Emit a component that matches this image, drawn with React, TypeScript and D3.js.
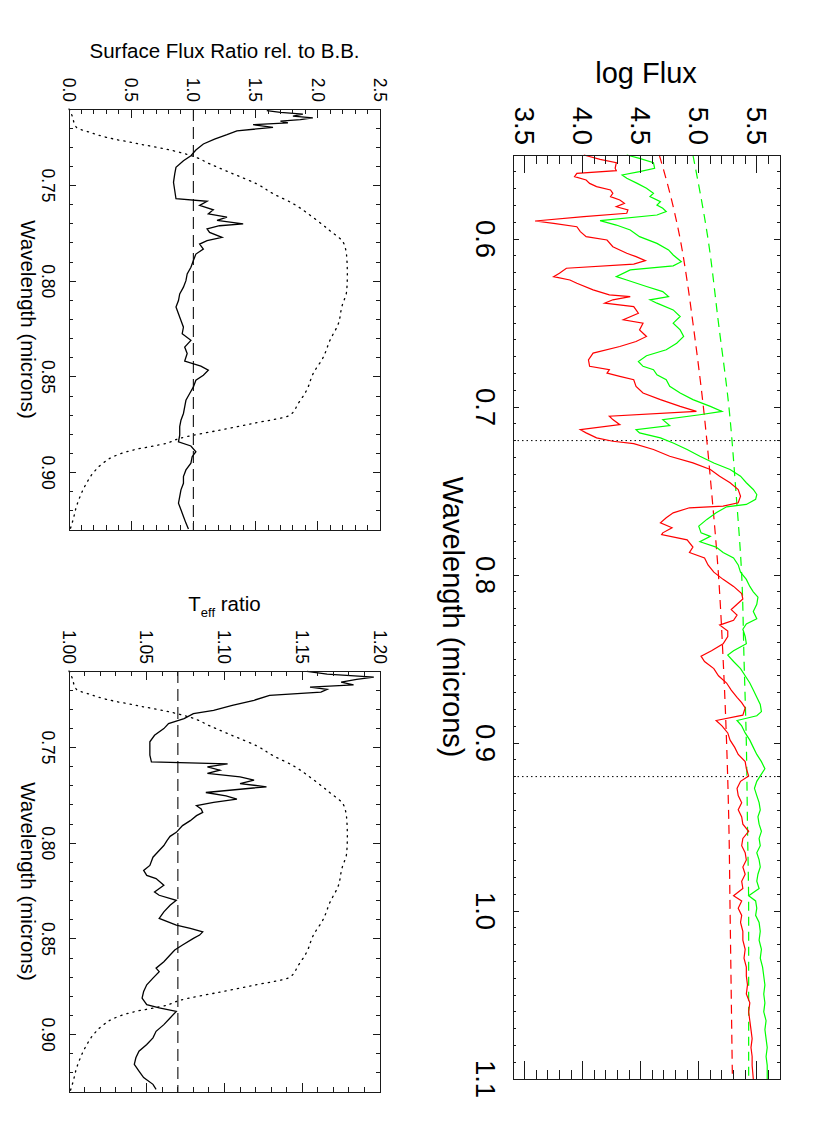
import * as d3 from "d3";

const FONT = "'Liberation Sans', Arial, Helvetica, sans-serif";

type Pt = [number, number];

// axis ticks
const mainWaveTicks = [0.6, 0.7, 0.8, 0.9, 1.0, 1.1];
const logFluxTicks = [3.5, 4.0, 4.5, 5.0, 5.5];
const smallWaveTicks = [0.75, 0.8, 0.85, 0.9];
const fluxRatioTicks = [0, 0.5, 1.0, 1.5, 2.0, 2.5];
const teffTicks = [1.0, 1.05, 1.1, 1.15, 1.2];
const bandEdges = [0.72, 0.92];

// main panel: [wavelength, log flux]
const redSpectrum: Pt[] = [
  [0.55, 4.01], [0.5526, 4.15], [0.5546, 4.29], [0.5579, 4.28], [0.5593, 4.29], [0.5609, 3.95],
  [0.5629, 3.93], [0.5649, 4.03], [0.5669, 4.06], [0.5688, 4.12], [0.5708, 4.24], [0.5728, 4.26],
  [0.5748, 4.24], [0.5768, 4.32], [0.5788, 4.36], [0.5808, 4.29], [0.5827, 4.39], [0.5847, 4.38],
  [0.5867, 4.01], [0.5893, 3.59], [0.5907, 3.75], [0.5927, 3.95], [0.5956, 3.98], [0.5986, 4.03],
  [0.6006, 4.21], [0.6046, 4.26], [0.6085, 4.38], [0.6105, 4.46], [0.6129, 4.54], [0.6149, 4.44],
  [0.6174, 3.86], [0.6204, 3.8], [0.6224, 3.75], [0.6244, 3.89], [0.6263, 3.95], [0.6303, 4.09],
  [0.6333, 4.23], [0.6343, 4.41], [0.6362, 4.26], [0.6382, 4.19], [0.6402, 4.44], [0.6422, 4.46],
  [0.6442, 4.48], [0.6481, 4.35], [0.6501, 4.52], [0.6541, 4.49], [0.658, 4.55], [0.661, 4.46],
  [0.664, 4.32], [0.6679, 4.09], [0.6719, 4.05], [0.6758, 4.06], [0.6778, 4.23], [0.6798, 4.21],
  [0.6818, 4.32], [0.6838, 4.44], [0.6877, 4.46], [0.6917, 4.52], [0.6956, 4.67], [0.6996, 4.84],
  [0.7026, 4.98], [0.7055, 4.23], [0.7075, 4.26], [0.7105, 4.32], [0.7135, 3.98], [0.7154, 4.03],
  [0.7184, 4.12], [0.7204, 4.26], [0.7218, 4.44], [0.7253, 4.61], [0.7293, 4.75], [0.7333, 4.95],
  [0.7372, 5.1], [0.7412, 5.18], [0.7451, 5.27], [0.7491, 5.34], [0.7531, 5.36], [0.757, 5.34],
  [0.759, 5.21], [0.76, 4.92], [0.763, 4.78], [0.7659, 4.72], [0.7689, 4.67], [0.7719, 4.77],
  [0.7749, 4.69], [0.776, 4.68], [0.7791, 4.9], [0.7834, 4.95], [0.7866, 4.92], [0.7898, 5.05],
  [0.794, 5.08], [0.7983, 5.13], [0.8026, 5.21], [0.8068, 5.3], [0.8111, 5.37], [0.8143, 5.38],
  [0.8174, 5.33], [0.8206, 5.28], [0.8238, 5.33], [0.827, 5.3], [0.8298, 5.18], [0.8334, 5.25],
  [0.8366, 5.25], [0.8409, 5.21], [0.8451, 5.11], [0.8483, 5.02], [0.8515, 5.05], [0.8557, 5.13],
  [0.86, 5.17], [0.8643, 5.24], [0.8685, 5.28], [0.8728, 5.33], [0.876, 5.37], [0.8791, 5.4],
  [0.8834, 5.38], [0.8866, 5.15], [0.8898, 5.2], [0.894, 5.25], [0.8983, 5.27], [0.9026, 5.31],
  [0.9068, 5.34], [0.9111, 5.4], [0.9153, 5.41], [0.9196, 5.43], [0.9228, 5.36], [0.927, 5.33],
  [0.9313, 5.34], [0.9355, 5.37], [0.9398, 5.34], [0.944, 5.37], [0.9483, 5.38], [0.9526, 5.43],
  [0.9568, 5.38], [0.9611, 5.37], [0.9653, 5.4], [0.9696, 5.41], [0.9738, 5.38], [0.9781, 5.4],
  [0.9823, 5.37], [0.9866, 5.38], [0.9909, 5.3], [0.994, 5.37], [0.9983, 5.34], [1.0026, 5.37],
  [1.0068, 5.36], [1.0121, 5.38], [1.0174, 5.38], [1.0228, 5.4], [1.0281, 5.39], [1.0334, 5.41],
  [1.0387, 5.41], [1.044, 5.42], [1.0494, 5.41], [1.0547, 5.44], [1.06, 5.43], [1.0653, 5.44],
  [1.0706, 5.45], [1.076, 5.46], [1.0813, 5.45], [1.0866, 5.46], [1.0919, 5.46], [1.1, 5.47],
];

const greenSpectrum: Pt[] = [
  [0.55, 4.38], [0.552, 4.49], [0.5546, 4.61], [0.5579, 4.62], [0.5599, 4.49], [0.5619, 4.34],
  [0.5639, 4.38], [0.5669, 4.47], [0.5698, 4.55], [0.5728, 4.61], [0.5748, 4.58], [0.5778, 4.67],
  [0.5798, 4.64], [0.5817, 4.69], [0.5837, 4.72], [0.5857, 4.64], [0.5891, 4.15], [0.5917, 4.29],
  [0.5946, 4.41], [0.5986, 4.49], [0.6026, 4.64], [0.6065, 4.74], [0.6095, 4.78], [0.6135, 4.85],
  [0.616, 4.78], [0.6184, 4.41], [0.6224, 4.29], [0.6244, 4.38], [0.6283, 4.55], [0.6313, 4.69],
  [0.6343, 4.74], [0.6362, 4.58], [0.6382, 4.64], [0.6422, 4.78], [0.6461, 4.84], [0.6501, 4.78],
  [0.6541, 4.84], [0.658, 4.87], [0.662, 4.81], [0.6659, 4.72], [0.6695, 4.55], [0.6729, 4.48],
  [0.6758, 4.52], [0.6778, 4.61], [0.6808, 4.64], [0.6838, 4.72], [0.6877, 4.75], [0.6917, 4.84],
  [0.6956, 4.95], [0.6996, 5.1], [0.7026, 5.2], [0.7046, 5.01], [0.7075, 4.69], [0.7111, 4.75],
  [0.7135, 4.46], [0.7154, 4.49], [0.7184, 4.67], [0.7214, 4.78], [0.7253, 4.9], [0.7293, 5.01],
  [0.7333, 5.13], [0.7372, 5.27], [0.7412, 5.36], [0.7451, 5.41], [0.7491, 5.47], [0.7521, 5.5],
  [0.755, 5.49], [0.758, 5.41], [0.7594, 5.24], [0.763, 5.15], [0.7669, 5.07], [0.7709, 5.0],
  [0.7749, 5.02], [0.777, 5.1], [0.7802, 5.01], [0.7834, 5.15], [0.7866, 5.21], [0.7898, 5.3],
  [0.794, 5.34], [0.7983, 5.36], [0.8026, 5.41], [0.8068, 5.44], [0.81, 5.47], [0.8132, 5.51],
  [0.8174, 5.5], [0.8217, 5.47], [0.826, 5.5], [0.8291, 5.41], [0.8323, 5.38], [0.8366, 5.4],
  [0.8409, 5.41], [0.8451, 5.3], [0.8477, 5.25], [0.8515, 5.3], [0.8557, 5.36], [0.86, 5.4],
  [0.8643, 5.44], [0.8685, 5.47], [0.8728, 5.5], [0.877, 5.53], [0.8813, 5.54], [0.8838, 5.5],
  [0.8866, 5.33], [0.8898, 5.37], [0.894, 5.4], [0.8983, 5.44], [0.9026, 5.47], [0.9068, 5.5],
  [0.9111, 5.54], [0.9153, 5.57], [0.9196, 5.53], [0.9228, 5.5], [0.927, 5.48], [0.9313, 5.5],
  [0.9355, 5.52], [0.9398, 5.53], [0.944, 5.51], [0.9483, 5.52], [0.9526, 5.54], [0.9568, 5.52],
  [0.9611, 5.53], [0.9653, 5.5], [0.9696, 5.52], [0.9738, 5.53], [0.9781, 5.51], [0.9823, 5.5],
  [0.9866, 5.52], [0.9909, 5.43], [0.994, 5.49], [0.9983, 5.5], [1.0026, 5.49], [1.0068, 5.52],
  [1.0121, 5.53], [1.0174, 5.52], [1.0228, 5.54], [1.0281, 5.53], [1.0334, 5.55], [1.0387, 5.56],
  [1.044, 5.57], [1.0494, 5.56], [1.0547, 5.57], [1.06, 5.56], [1.0653, 5.58], [1.0706, 5.57],
  [1.076, 5.58], [1.0813, 5.59], [1.0866, 5.58], [1.0919, 5.59], [1.1, 5.59],
];

const redBlackbody: Pt[] = [
  [0.55, 4.66], [0.575, 4.76], [0.6, 4.84], [0.625, 4.9], [0.65, 4.95], [0.7, 5.04], [0.75, 5.11],
  [0.8, 5.17], [0.85, 5.21], [0.9, 5.24], [0.95, 5.26], [1.0, 5.27], [1.05, 5.28], [1.1, 5.29],
];

const greenBlackbody: Pt[] = [
  [0.55, 4.95], [0.6, 5.08], [0.65, 5.17], [0.7, 5.26], [0.75, 5.32], [0.8, 5.37], [0.85, 5.39],
  [0.9, 5.41], [0.95, 5.42], [1.0, 5.43], [1.05, 5.43], [1.1, 5.43],
];

// small panels
const fluxRatio: Pt[] = [
  [0.7109, 1.59], [0.7118, 1.7], [0.7127, 1.88], [0.7137, 1.8], [0.7146, 1.96], [0.7155, 1.86],
  [0.7163, 1.7], [0.7172, 1.76], [0.7182, 1.48], [0.7196, 1.64], [0.7214, 1.35], [0.7234, 1.27],
  [0.7257, 1.17], [0.7283, 1.08], [0.7314, 1.02], [0.7344, 0.98], [0.737, 0.92], [0.7405, 0.86],
  [0.7439, 0.85], [0.7483, 0.84], [0.7526, 0.85], [0.7569, 0.86], [0.7582, 1.11], [0.7604, 1.05],
  [0.7627, 1.16], [0.7648, 1.12], [0.7665, 1.27], [0.7682, 1.19], [0.77, 1.4], [0.771, 1.21],
  [0.7727, 1.11], [0.7745, 1.13], [0.7771, 1.23], [0.7788, 1.11], [0.7806, 1.05], [0.7832, 1.08],
  [0.7858, 1.02], [0.7892, 1.0], [0.7927, 0.98], [0.7962, 0.95], [0.7997, 0.94], [0.8031, 0.92],
  [0.8066, 0.89], [0.8101, 0.88], [0.8135, 0.86], [0.817, 0.88], [0.8205, 0.9], [0.824, 0.92],
  [0.8274, 0.91], [0.8309, 0.98], [0.8344, 0.93], [0.8378, 0.95], [0.8417, 0.93], [0.8444, 1.06],
  [0.8465, 1.12], [0.8491, 1.08], [0.8517, 1.02], [0.8552, 1.0], [0.8587, 0.97], [0.8622, 0.94],
  [0.8656, 0.93], [0.8691, 0.92], [0.8726, 0.9], [0.876, 0.89], [0.8804, 0.89], [0.8839, 0.88],
  [0.8861, 0.98], [0.8891, 1.02], [0.8917, 0.99], [0.8951, 0.98], [0.8986, 0.94], [0.9021, 0.92],
  [0.9056, 0.92], [0.909, 0.9], [0.9125, 0.89], [0.916, 0.88], [0.9194, 0.9], [0.9229, 0.92],
  [0.9264, 0.94], [0.9295, 0.96],
];

const teffRatio: Pt[] = [
  [0.7102, 1.153], [0.7116, 1.166], [0.7132, 1.196], [0.7144, 1.185], [0.7158, 1.175], [0.7172, 1.183],
  [0.7184, 1.155], [0.7196, 1.166], [0.721, 1.162], [0.7227, 1.129], [0.7253, 1.119], [0.728, 1.105],
  [0.7306, 1.093], [0.7323, 1.08], [0.7349, 1.074], [0.7375, 1.064], [0.7401, 1.061], [0.7436, 1.055],
  [0.747, 1.052], [0.7505, 1.052], [0.754, 1.052], [0.7575, 1.053], [0.7585, 1.102], [0.7601, 1.089],
  [0.7618, 1.097], [0.7635, 1.089], [0.7653, 1.11], [0.767, 1.119], [0.7688, 1.11], [0.7705, 1.127],
  [0.7735, 1.088], [0.7752, 1.101], [0.7769, 1.108], [0.7787, 1.093], [0.7804, 1.082], [0.7821, 1.085],
  [0.7839, 1.086], [0.7856, 1.082], [0.7882, 1.078], [0.7908, 1.073], [0.7943, 1.069], [0.7964, 1.065],
  [0.7986, 1.063], [0.8012, 1.061], [0.8038, 1.058], [0.8073, 1.054], [0.8116, 1.052], [0.8142, 1.048],
  [0.8168, 1.05], [0.8185, 1.056], [0.822, 1.061], [0.8255, 1.055], [0.8272, 1.058], [0.8298, 1.069],
  [0.8324, 1.065], [0.8359, 1.061], [0.8393, 1.058], [0.8428, 1.069], [0.8445, 1.078], [0.8463, 1.086],
  [0.848, 1.084], [0.8497, 1.08], [0.8532, 1.073], [0.8558, 1.068], [0.8584, 1.065], [0.8619, 1.061],
  [0.8653, 1.056], [0.8671, 1.058], [0.8705, 1.054], [0.874, 1.05], [0.8775, 1.048], [0.8809, 1.047],
  [0.8844, 1.05], [0.8861, 1.058], [0.8879, 1.069], [0.8913, 1.065], [0.8948, 1.061], [0.8983, 1.056],
  [0.9017, 1.054], [0.9052, 1.05], [0.9087, 1.045], [0.9121, 1.043], [0.9156, 1.042], [0.9191, 1.045],
  [0.9225, 1.048], [0.926, 1.054], [0.9286, 1.056],
];

// filter response, as a fraction of the panel's value axis
const filterCurve: Pt[] = [
  [0.71, 0.0], [0.7127, 0.008], [0.7196, 0.024], [0.7222, 0.067], [0.7248, 0.12], [0.7283, 0.227],
  [0.7318, 0.335], [0.7344, 0.394], [0.7387, 0.453], [0.7439, 0.528], [0.7491, 0.603], [0.7543, 0.657],
  [0.7595, 0.721], [0.7667, 0.785], [0.7736, 0.839], [0.7797, 0.882], [0.7873, 0.893], [0.7962, 0.895],
  [0.8049, 0.893], [0.8135, 0.877], [0.8222, 0.866], [0.8309, 0.839], [0.8396, 0.818], [0.8483, 0.785],
  [0.857, 0.764], [0.8639, 0.737], [0.87, 0.71], [0.8743, 0.592], [0.8778, 0.485], [0.8821, 0.356],
  [0.8847, 0.313], [0.8882, 0.206], [0.8917, 0.142], [0.8951, 0.109], [0.9003, 0.077], [0.9056, 0.056],
  [0.9108, 0.04], [0.9177, 0.024], [0.9247, 0.013], [0.9295, 0.004],
];

const fluxRatioReference = 1.0;
const teffReference = 1.07;

type Scale = d3.ScaleLinear<number, number>;

const minorList = (lo: number, hi: number, step: number) =>
  d3.range(Math.ceil(lo / step - 1e-6), Math.floor(hi / step + 1e-6) + 1).map((i) => +(i * step).toFixed(4));

const isMajor = (v: number, majors: number[]) => majors.some((m) => Math.abs(m - v) < 1e-6);

function Frame({ lamScale, valScale, lamMajor, lamStep, valMajor, valStep, lamLen, valLen }: {
  lamScale: Scale; valScale: Scale; lamMajor: number[]; lamStep: number; valMajor: number[]; valStep: number;
  lamLen: [number, number]; valLen: [number, number];
}) {
  const [x0, x1] = valScale.range();
  const [y0, y1] = lamScale.range();
  const [l0, l1] = lamScale.domain();
  const [v0, v1] = valScale.domain();
  const lamTicks = minorList(l0, l1, lamStep);
  const valTicks = minorList(v0, v1, valStep);
  return (
    <g stroke="#1a1a1a" strokeWidth={1} fill="none" shapeRendering="crispEdges">
      <rect x={x0} y={y0} width={x1 - x0} height={y1 - y0} />
      {lamTicks.map((t) => {
        const y = lamScale(t);
        const len = isMajor(t, lamMajor) ? lamLen[0] : lamLen[1];
        return (
          <g key={"l" + t}>
            <line x1={x0} x2={x0 + len} y1={y} y2={y} />
            <line x1={x1 - len} x2={x1} y1={y} y2={y} />
          </g>
        );
      })}
      {valTicks.map((t) => {
        const x = valScale(t);
        const len = isMajor(t, valMajor) ? valLen[0] : valLen[1];
        return (
          <g key={"v" + t}>
            <line x1={x} x2={x} y1={y0} y2={y0 + len} />
            <line x1={x} x2={x} y1={y1 - len} y2={y1} />
          </g>
        );
      })}
    </g>
  );
}

const pathFor = (lamScale: Scale, valScale: Scale, data: Pt[], curve: d3.CurveFactory = d3.curveLinear) =>
  d3.line<Pt>().x((d) => valScale(d[1])).y((d) => lamScale(d[0])).curve(curve)(data) ?? "";

function SmallPanel({ top, bottom, domain, ticks, fmt, series, reference, title }: {
  top: number; bottom: number; domain: [number, number]; ticks: number[]; fmt: (n: number) => string;
  series: Pt[]; reference: number; title: React.ReactNode;
}) {
  const lamScale = d3.scaleLinear().domain([0.71, 0.93]).range([top, bottom]);
  const valScale = d3.scaleLinear().domain(domain).range([69, 380]);
  const fracScale = d3.scaleLinear().domain([0, 1]).range(valScale.range());
  const cy = (top + bottom) / 2;
  return (
    <g fontFamily={FONT} fill="#000">
      {title}
      <path d={pathFor(lamScale, fracScale, filterCurve, d3.curveMonotoneY)} fill="none" stroke="#000"
        strokeWidth={1.3} strokeDasharray="1.3,5" strokeLinecap="round" />
      <line x1={valScale(reference)} x2={valScale(reference)} y1={top} y2={bottom} stroke="#222"
        strokeWidth={1.2} strokeDasharray="12,6" />
      <path d={pathFor(lamScale, valScale, series)} fill="none" stroke="#000" strokeWidth={1.3} />
      <Frame lamScale={lamScale} valScale={valScale} lamMajor={smallWaveTicks} lamStep={0.01}
        valMajor={ticks} valStep={(domain[1] - domain[0]) / (ticks.length - 1) / 5} lamLen={[7, 4]} valLen={[9, 5]} />
      {ticks.map((t) => (
        <text key={t} transform={`translate(${valScale(t) - 6.3},${top - 7}) rotate(90)`} textAnchor="end"
          fontSize={17.5}>{fmt(t)}</text>
      ))}
      {smallWaveTicks.map((t) => (
        <text key={t} transform={`translate(42,${lamScale(t)}) rotate(90)`} textAnchor="middle"
          fontSize={17.5}>{t.toFixed(2)}</text>
      ))}
      <text transform={`translate(20.5,${cy}) rotate(90)`} textAnchor="middle" fontSize={20.5}>
        Wavelength (microns)
      </text>
    </g>
  );
}

export default function App() {
  const lamScale = d3.scaleLinear().domain([0.55, 1.1]).range([155, 1079]);
  const fluxScale = d3.scaleLinear().domain([3.4, 5.7]).range([513, 780]);
  const [x0, x1] = fluxScale.range();

  return (
    <svg width={830} height={1127} style={{ position: "absolute", left: 0, top: 0, background: "#fff" }}>
      <rect width={830} height={1127} fill="#fff" />
      <g fontFamily={FONT} fill="#000">
        <text x={646} y={83} textAnchor="middle" fontSize={29}>log Flux</text>
        {logFluxTicks.map((t) => (
          <text key={t} transform={`translate(${fluxScale(t) - 10},145) rotate(90)`} textAnchor="end"
            fontSize={27.5}>{t.toFixed(1)}</text>
        ))}
        {mainWaveTicks.map((t) => (
          <text key={t} transform={`translate(476,${lamScale(t)}) rotate(90)`} textAnchor="middle"
            fontSize={27.5}>{t.toFixed(1)}</text>
        ))}
        <text transform={`translate(443,${(155 + 1079) / 2}) rotate(90)`} textAnchor="middle" fontSize={29}>
          Wavelength (microns)
        </text>
      </g>
      {bandEdges.map((b) => (
        <line key={b} x1={x0} x2={x1} y1={lamScale(b)} y2={lamScale(b)} stroke="#000" strokeWidth={1}
          strokeDasharray="1.5,3" />
      ))}
      <path d={pathFor(lamScale, fluxScale, redBlackbody, d3.curveMonotoneY)} fill="none" stroke="#ff0000"
        strokeWidth={1.2} strokeDasharray="9,6" />
      <path d={pathFor(lamScale, fluxScale, greenBlackbody, d3.curveMonotoneY)} fill="none" stroke="#00ff00"
        strokeWidth={1.2} strokeDasharray="9,6" />
      <path d={pathFor(lamScale, fluxScale, greenSpectrum)} fill="none" stroke="#00ff00" strokeWidth={1.2} />
      <path d={pathFor(lamScale, fluxScale, redSpectrum)} fill="none" stroke="#ff0000" strokeWidth={1.2} />
      <Frame lamScale={lamScale} valScale={fluxScale} lamMajor={mainWaveTicks} lamStep={0.01}
        valMajor={logFluxTicks} valStep={0.1} lamLen={[6, 3]} valLen={[18, 9]} />

      <SmallPanel top={109} bottom={530} domain={[0, 2.5]} ticks={fluxRatioTicks} fmt={(n) => n.toFixed(1)}
        series={fluxRatio} reference={fluxRatioReference}
        title={<text x={224.5} y={58} textAnchor="middle" fontSize={20.5}>Surface Flux Ratio rel. to B.B.</text>} />
      <SmallPanel top={671} bottom={1092} domain={[1.0, 1.2]} ticks={teffTicks} fmt={(n) => n.toFixed(2)}
        series={teffRatio} reference={teffReference}
        title={
          <text x={224.5} y={611} textAnchor="middle" fontSize={20.5}>
            T<tspan fontSize={13} dy={6}>eff</tspan><tspan dy={-6}> ratio</tspan>
          </text>
        } />
    </svg>
  );
}
